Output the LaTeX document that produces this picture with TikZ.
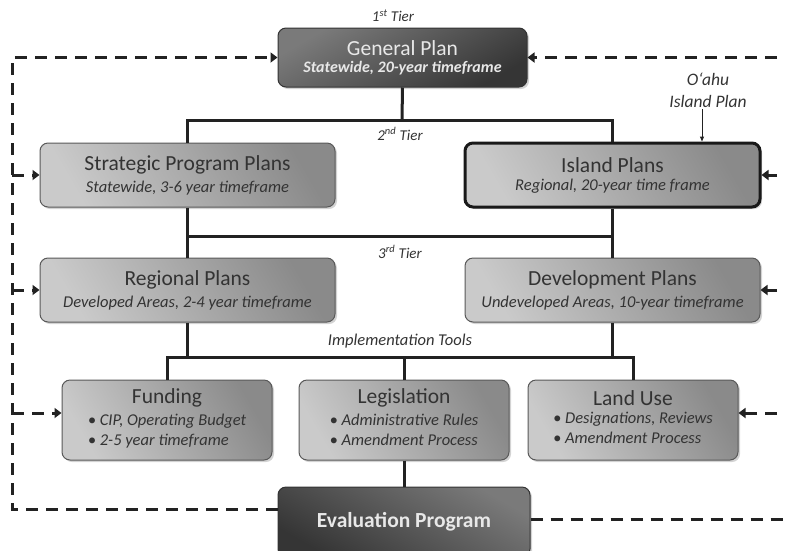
\documentclass[tikz,border=0pt]{standalone}
\usepackage{fontspec}
\setmainfont{Carlito}
\usetikzlibrary{arrows.meta,shadows}
\definecolor{linec}{HTML}{222222}
\definecolor{lightA}{HTML}{8A8A8A}
\definecolor{lightB}{HTML}{CACACA}
\definecolor{darkA}{HTML}{7A7A7A}
\definecolor{darkB}{HTML}{353535}
\definecolor{txtdark}{HTML}{333333}
\definecolor{txtlight}{HTML}{E8E8E8}
\newcommand{\boxtitle}{\fontsize{21.5}{24}\selectfont}
\newcommand{\boxsub}{\fontsize{16.5}{20}\selectfont\itshape}
\newcommand{\tierlab}{\fontsize{15}{17}\selectfont\itshape}
\begin{document}
\begin{tikzpicture}[x=1pt,y=-1pt,
  basebox/.style={rounded corners=8pt, line width=1pt, draw=black!65, align=center,
    inner sep=0pt, drop shadow={shadow xshift=2pt, shadow yshift=-2pt, opacity=0.35}},
  lightbox/.style={basebox, top color=lightA, bottom color=lightB, shading angle=-60, text=txtdark},
  darkbox/.style={basebox, top color=darkA, bottom color=darkB, shading angle=30, text=txtlight, draw=black!80},
  tree/.style={line width=3pt, draw=linec},
  dl/.style={line width=3pt, draw=linec, dash pattern=on 12pt off 8pt},
  tip/.style={-{Triangle[length=7pt,width=10pt]}},
  lab/.style={text=txtdark, inner sep=0pt}
]
\useasboundingbox (0,0) rectangle (785,550);
\clip (0,0) rectangle (785,550);

% nodes
\node[darkbox, minimum width=249pt, minimum height=59pt] (GP) at (402.5,57.5)
  {{\boxtitle General Plan}\\[5pt]{\fontsize{16}{20}\selectfont\bfseries\itshape Statewide, 20-year timeframe}};
\node[lightbox, minimum width=295pt, minimum height=64pt] (SPP) at (187.5,175)
  {{\boxtitle Strategic Program Plans}\\[6pt]{\boxsub Statewide, 3-6 year timeframe}};
\node[lightbox, minimum width=295pt, minimum height=64pt, line width=3pt, draw=black!90] (IP) at (612.5,175)
  {{\boxtitle Island Plans}\\[6pt]{\boxsub Regional, 20-year time frame}};
\node[lightbox, minimum width=295pt, minimum height=64pt] (RP) at (187.5,290)
  {{\boxtitle Regional Plans}\\[6pt]{\boxsub Developed Areas, 2-4 year timeframe}};
\node[lightbox, minimum width=295pt, minimum height=64pt] (DP) at (612.5,290)
  {{\boxtitle Development Plans}\\[6pt]{\boxsub Undeveloped Areas, 10-year timeframe}};
\node[lightbox, minimum width=210pt, minimum height=80pt] (FU) at (167,420)
  {{\boxtitle Funding}\\[3pt]{\boxsub\begin{tabular}{@{}l@{}}• CIP, Operating Budget\\• 2-5 year timeframe\end{tabular}}};
\node[lightbox, minimum width=210pt, minimum height=80pt] (LE) at (404,420)
  {{\boxtitle Legislation}\\[3pt]{\boxsub\begin{tabular}{@{}l@{}}• Administrative Rules\\• Amendment Process\end{tabular}}};
\node[lightbox, minimum width=210pt, minimum height=80pt] (LU) at (633,420)
  {{\boxtitle Land Use}\\[3pt]{\boxsub\begin{tabular}{@{}l@{}}• Designations, Reviews\\• Amendment Process\end{tabular}}};
\node[darkbox, minimum width=252pt, minimum height=70pt, shading angle=-30] (EV) at (404,522)
  {{\boxtitle\bfseries Evaluation Program}};

% labels
\node[lab, font=\tierlab] (t1l) at (393,16) {1\textsuperscript{st} Tier};
\node[lab, font=\tierlab] (t2l) at (400,134) {2\textsuperscript{nd} Tier};
\node[lab, font=\tierlab] (t3l) at (400,252) {3\textsuperscript{rd} Tier};
\node[lab, font=\fontsize{16.5}{20}\selectfont\itshape] (itl) at (400,341) {Implementation Tools};
\node[lab, font=\fontsize{17.5}{20}\selectfont\itshape] (oah) at (708,79) {O‘ahu};
\node[lab, font=\fontsize{17.5}{20}\selectfont\itshape] (isl) at (708,101) {Island Plan};

% tree coordinates
\coordinate (t2) at (402,120);
\coordinate (t3) at (402,236);
\coordinate (t4) at (402,357);

\draw[tree] (GP.south) -- (t2);
\draw[tree] (SPP.north) |- (t2) -| (IP.north);
\draw[tree] (SPP.south) -- (RP.north);
\draw[tree] (IP.south) -- (DP.north);
\draw[tree] (SPP.south |- t3) -- (IP.south |- t3);
\draw[tree] (RP.south) -- (RP.south |- t4);
\draw[tree] (DP.south) -- (DP.south |- t4);
\draw[tree] (FU.north) |- (t4) -| (LU.north);
\draw[tree] (LE.north) -- (LE.north |- t4);
\draw[tree] (LE.south) -- (EV.north);

% O'ahu arrow
\draw[line width=1pt, draw=linec, -{Triangle[length=5pt,width=4pt]}] ([yshift=-2pt]isl.south -| 702,0) -- (IP.north -| 702,0);

% feedback dashed lines
\coordinate (L) at (12,0);
\coordinate (R) at (797,0);
\draw[dl, tip] ([yshift=13pt]EV.west) -| (L |- GP.west) -- (GP.west);
\draw[dl, tip] (L |- SPP.west) -- (SPP.west);
\draw[dl, tip] (L |- RP.west) -- (RP.west);
\draw[dl, tip] ([yshift=7pt]L |- FU.west) -- ([yshift=7pt]FU.west);
\draw[dl] ([yshift=3pt]EV.east) -| (R |- GP.east);
\draw[dl, tip] (R |- GP.east) -- (GP.east);
\draw[dl, tip] (R |- IP.east) -- (IP.east);
\draw[dl, tip] (R |- DP.east) -- (DP.east);
\draw[dl, tip] ([yshift=7pt]R |- LU.east) -- ([yshift=7pt]LU.east);
\end{tikzpicture}
\end{document}
